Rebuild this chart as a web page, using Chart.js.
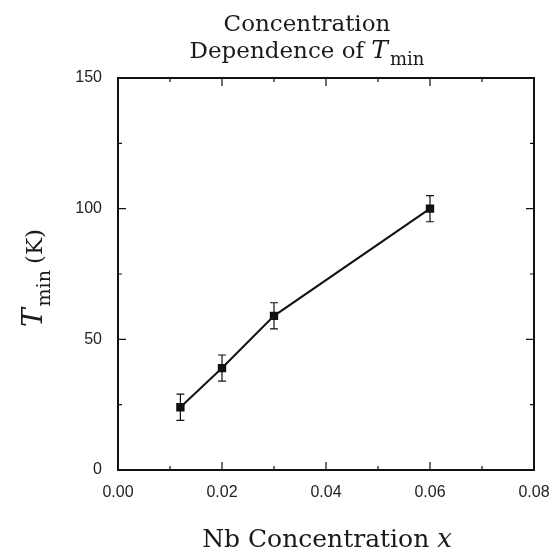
<!DOCTYPE html>
<html>
<head>
<meta charset="utf-8">
<script src="https://cdn.jsdelivr.net/npm/chart.js@4"></script>
<style>
  html, body { margin: 0; padding: 0; background: #fff; }
  #wrap { width: 556px; height: 550px; position: relative; }
</style>
</head>
<body>
<div id="wrap"><canvas id="tminChart"></canvas></div>
<script>
// Tmin vs Nb concentration

const concentration = [0.012, 0.02, 0.03, 0.06];
const tMin = [24, 39, 59, 100];
const tMinErr = [5, 5, 5, 5];

const xMinorTicks = [0.01, 0.03, 0.05, 0.07];
const yMinorTicks = [25, 75, 125];

const serif = '"DejaVu Serif", "Liberation Serif", serif';
const sans = '"Liberation Sans", Arial, sans-serif';

// error bars from the data arrays
const errorBars = {
    id: 'errorBars',
    afterDatasetsDraw(chart) {
        const ctx = chart.ctx;
        const y = chart.scales.y;
        const meta = chart.getDatasetMeta(0);
        ctx.save();
        ctx.strokeStyle = '#111';
        ctx.lineWidth = 1.2;
        meta.data.forEach((pt, i) => {
            const top = y.getPixelForValue(tMin[i] + tMinErr[i]);
            const bot = y.getPixelForValue(tMin[i] - tMinErr[i]);
            ctx.beginPath();
            ctx.moveTo(pt.x, top); ctx.lineTo(pt.x, bot);
            ctx.moveTo(pt.x - 4, top); ctx.lineTo(pt.x + 4, top);
            ctx.moveTo(pt.x - 4, bot); ctx.lineTo(pt.x + 4, bot);
            ctx.stroke();
        });
        ctx.restore();
    }
};

// frame, inward ticks and titles with subscripts
const frame = {
    id: 'frame',
    afterDraw(chart) {
        const ctx = chart.ctx;
        const a = chart.chartArea;
        const xs = chart.scales.x, ys = chart.scales.y;
        ctx.save();
        ctx.strokeStyle = '#111';
        ctx.lineWidth = 2;
        ctx.strokeRect(a.left, a.top, a.right - a.left, a.bottom - a.top);

        ctx.lineWidth = 1.2;
        ctx.beginPath();
        const xt = (v, len) => {
            const px = xs.getPixelForValue(v);
            ctx.moveTo(px, a.bottom); ctx.lineTo(px, a.bottom - len);
            ctx.moveTo(px, a.top); ctx.lineTo(px, a.top + len);
        };
        const yt = (v, len) => {
            const py = ys.getPixelForValue(v);
            ctx.moveTo(a.left, py); ctx.lineTo(a.left + len, py);
            ctx.moveTo(a.right, py); ctx.lineTo(a.right - len, py);
        };
        xs.ticks.forEach(t => xt(t.value, 8));
        xMinorTicks.forEach(v => xt(v, 4));
        ys.ticks.forEach(t => yt(t.value, 8));
        yMinorTicks.forEach(v => yt(v, 4));
        ctx.stroke();

        ctx.fillStyle = '#1a1a1a';
        ctx.textBaseline = 'alphabetic';

        // title
        ctx.textAlign = 'center';
        ctx.font = '23px ' + serif;
        ctx.fillText('Concentration', 307, 31);
        const p1 = 'Dependence of ';
        ctx.font = '23px ' + serif;
        const w1 = ctx.measureText(p1).width;
        ctx.font = 'italic 25px ' + serif;
        const wT = ctx.measureText('T').width;
        ctx.font = '18px ' + serif;
        const wS = ctx.measureText('min').width;
        let x0 = 307 - (w1 + wT + 2 + wS) / 2;
        ctx.textAlign = 'left';
        ctx.font = '23px ' + serif;
        ctx.fillText(p1, x0, 58);
        ctx.font = 'italic 25px ' + serif;
        ctx.fillText('T', x0 + w1, 58);
        ctx.font = '18px ' + serif;
        ctx.fillText('min', x0 + w1 + wT + 2, 65);

        // x title
        ctx.font = '25px ' + serif;
        const xa = 'Nb Concentration ';
        const wa = ctx.measureText(xa).width;
        ctx.font = 'italic 26px ' + serif;
        const wx = ctx.measureText('x').width;
        let xs0 = 327 - (wa + wx) / 2;
        ctx.font = '25px ' + serif;
        ctx.fillText(xa, xs0, 547);
        ctx.font = 'italic 26px ' + serif;
        ctx.fillText('x', xs0 + wa, 547);

        // y title, rotated
        ctx.translate(42, 278);
        ctx.rotate(-Math.PI / 2);
        ctx.font = 'italic 28px ' + serif;
        const yT = ctx.measureText('T').width;
        ctx.font = '19px ' + serif;
        const yS = ctx.measureText('min ').width;
        ctx.font = '23px ' + serif;
        const yK = ctx.measureText('(K)').width;
        let y0 = -(yT + 2 + yS + yK) / 2;
        ctx.font = 'italic 28px ' + serif;
        ctx.fillText('T', y0, 0);
        ctx.font = '19px ' + serif;
        ctx.fillText('min', y0 + yT + 2, 8);
        ctx.font = '23px ' + serif;
        ctx.fillText('(K)', y0 + yT + 2 + yS, 0);
        ctx.restore();
    }
};

const chart = new Chart(document.getElementById('tminChart'), {
    type: 'scatter',
    data: {
        datasets: [{
            data: concentration.map((c, i) => ({ x: c, y: tMin[i] })),
            showLine: true,
            borderColor: '#111',
            borderWidth: 2,
            backgroundColor: '#111',
            pointStyle: 'rect',
            pointRadius: 4.5,
            pointHoverRadius: 4.5
        }]
    },
    options: {
        responsive: true,
        maintainAspectRatio: false,
        animation: false,
        layout: { padding: { top: 78, right: 0, left: 0, bottom: 0 } },
        plugins: {
            legend: { display: false },
            tooltip: { enabled: false }
        },
        scales: {
            x: {
                type: 'linear',
                min: 0, max: 0.08,
                grid: { display: false, drawTicks: false },
                border: { display: false },
                afterFit: s => { s.height = 80; s.paddingRight = 22; },
                ticks: {
                    stepSize: 0.02,
                    padding: 13,
                    color: '#222',
                    font: { family: sans, size: 16 },
                    callback: v => v.toFixed(2)
                }
            },
            y: {
                min: 0, max: 150,
                grid: { display: false, drawTicks: false },
                border: { display: false },
                afterFit: s => { s.width = 118; },
                ticks: {
                    stepSize: 50,
                    padding: 16,
                    color: '#222',
                    font: { family: sans, size: 16 }
                }
            }
        }
    },
    plugins: [errorBars, frame]
});
</script>
</body>
</html>
